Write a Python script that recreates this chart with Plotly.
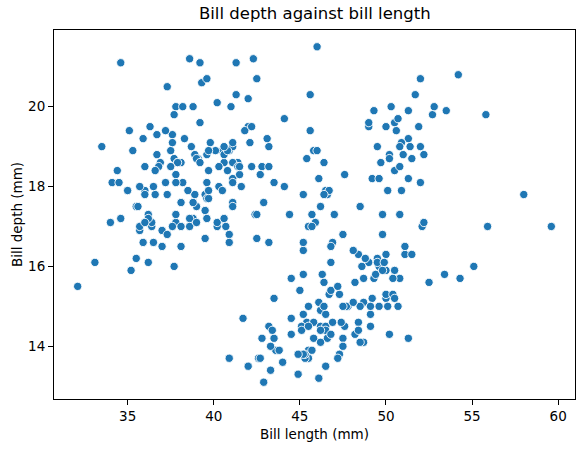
import plotly.graph_objects as go

# Palmer penguins, bill length / bill depth (mm), rows with values present
adelie_length = [
    39.1, 39.5, 40.3, 36.7, 39.3, 38.9, 39.2, 34.1, 42.0, 37.8, 37.8, 41.1, 38.6, 34.6, 36.6, 38.7,
    42.5, 34.4, 46.0, 37.8, 37.7, 35.9, 38.2, 38.8, 35.3, 40.6, 40.5, 37.9, 40.5, 39.5, 37.2, 39.5,
    40.9, 36.4, 39.2, 38.8, 42.2, 37.6, 39.8, 36.5, 40.8, 36.0, 44.1, 37.0, 39.6, 41.1, 37.5, 36.0,
    42.3, 39.6, 40.1, 35.0, 42.0, 34.5, 41.4, 39.0, 40.6, 36.5, 37.6, 35.7, 41.3, 37.6, 41.1, 36.4,
    41.6, 35.5, 41.1, 35.9, 41.8, 33.5, 39.7, 39.6, 45.8, 35.5, 42.8, 40.9, 37.2, 36.2, 42.1, 34.6,
    42.9, 36.7, 35.1, 37.3, 41.3, 36.3, 36.9, 38.3, 38.9, 35.7, 41.1, 34.0, 39.6, 36.2, 40.8, 38.1,
    40.3, 33.1, 43.2, 35.0, 41.0, 37.7, 37.8, 37.9, 39.7, 38.6, 38.2, 38.1, 43.2, 38.1, 45.6, 39.7,
    42.2, 39.6, 42.7, 38.6, 37.3, 35.7, 41.1, 36.2, 37.7, 40.2, 41.4, 35.2, 40.6, 38.8, 41.5, 39.0,
    44.1, 38.5, 43.1, 36.8, 37.5, 38.1, 41.1, 35.6, 40.2, 37.0, 39.7, 40.2, 40.6, 32.1, 40.7, 37.3,
    39.0, 39.2, 36.6, 36.0, 37.8, 36.0, 41.5,
]
adelie_depth = [
    18.7, 17.4, 18.0, 19.3, 20.6, 17.8, 19.6, 18.1, 20.2, 17.1, 17.3, 17.6, 21.2, 21.1, 17.8, 19.0,
    20.7, 18.4, 21.5, 18.3, 18.7, 19.2, 18.1, 17.2, 18.9, 18.6, 17.9, 18.6, 18.9, 16.7, 18.1, 17.8,
    18.9, 17.0, 21.1, 20.0, 18.5, 19.3, 19.1, 18.0, 18.4, 18.5, 19.7, 16.9, 18.8, 19.0, 18.9, 17.9,
    21.2, 17.7, 18.9, 17.9, 19.5, 18.1, 18.6, 17.5, 18.8, 16.6, 19.1, 16.9, 21.1, 17.0, 18.2, 17.1,
    18.0, 16.2, 19.1, 16.6, 19.4, 19.0, 18.4, 17.2, 18.9, 17.5, 18.5, 16.8, 19.4, 16.1, 19.1, 17.2,
    17.6, 18.8, 19.4, 17.8, 20.3, 19.5, 18.6, 19.2, 18.8, 18.0, 18.1, 17.1, 18.1, 17.3, 18.9, 18.6,
    18.5, 16.1, 18.5, 17.9, 20.0, 16.0, 20.0, 18.6, 18.9, 17.2, 20.0, 17.0, 19.0, 16.5, 20.3, 17.7,
    19.5, 20.7, 18.3, 17.0, 20.5, 17.0, 18.6, 17.2, 19.8, 17.0, 18.5, 15.9, 19.0, 17.6, 18.3, 17.1,
    18.0, 17.9, 19.2, 18.5, 18.5, 17.6, 17.5, 17.5, 20.1, 16.5, 17.9, 17.1, 17.2, 15.5, 17.0, 16.8,
    18.7, 18.6, 18.4, 17.8, 18.1, 17.1, 18.5,
]
gentoo_length = [
    46.1, 50.0, 48.7, 50.0, 47.6, 46.5, 45.4, 46.7, 43.3, 46.8, 40.9, 49.0, 45.5, 48.4, 45.8, 49.3,
    42.0, 49.2, 46.2, 48.7, 50.2, 45.1, 46.5, 46.3, 42.9, 46.1, 44.5, 47.8, 48.2, 50.0, 47.3, 42.8,
    45.1, 59.6, 49.1, 48.4, 42.6, 44.4, 44.0, 48.7, 42.7, 49.6, 45.3, 49.6, 50.5, 43.6, 45.5, 50.5,
    44.9, 45.2, 46.6, 48.5, 45.1, 50.1, 46.5, 45.0, 43.8, 45.5, 43.2, 50.4, 45.3, 46.2, 45.7, 54.3,
    45.8, 49.8, 46.2, 49.5, 43.5, 50.7, 47.7, 46.4, 48.2, 46.5, 46.4, 48.6, 47.5, 51.1, 45.2, 45.2,
    49.1, 52.5, 47.4, 50.0, 44.9, 50.8, 43.4, 51.3, 47.5, 52.1, 47.5, 52.2, 45.5, 49.5, 44.5, 50.8,
    49.4, 46.9, 48.4, 51.1, 48.5, 55.9, 47.2, 49.1, 47.3, 46.8, 41.7, 53.4, 43.3, 48.1, 50.5, 49.8,
    43.5, 51.5, 46.2, 55.1, 44.5, 48.8, 47.2, 46.8, 50.4, 45.2, 49.9,
]
gentoo_depth = [
    13.2, 16.3, 14.1, 15.2, 14.5, 13.5, 14.6, 15.3, 13.4, 15.4, 13.7, 16.1, 13.7, 14.6, 14.6, 15.7,
    13.5, 15.2, 14.5, 15.1, 14.3, 14.5, 14.5, 15.8, 13.1, 15.1, 14.3, 15.0, 14.3, 15.3, 15.3, 14.2,
    14.5, 17.0, 14.8, 16.3, 13.7, 17.3, 13.6, 15.7, 13.7, 16.0, 13.7, 15.0, 15.9, 13.9, 13.9, 15.9,
    13.3, 15.8, 14.2, 14.1, 14.4, 15.0, 14.4, 15.4, 13.9, 15.0, 14.5, 15.3, 13.8, 14.9, 13.9, 15.7,
    14.2, 16.8, 14.4, 16.2, 14.2, 15.0, 15.0, 15.6, 15.6, 14.8, 15.0, 16.0, 14.2, 16.3, 13.8, 16.4,
    14.5, 15.6, 14.6, 15.9, 13.8, 17.3, 14.4, 14.2, 14.0, 17.0, 15.0, 17.1, 14.5, 16.1, 14.7, 15.7,
    15.8, 14.6, 14.4, 16.5, 15.0, 17.0, 15.5, 15.0, 13.8, 16.1, 14.7, 15.8, 14.0, 15.1, 15.2, 15.9,
    15.2, 16.3, 14.1, 16.0, 15.7, 16.2, 13.7, 14.3, 15.7, 14.8, 16.1,
]
chinstrap_length = [
    46.5, 50.0, 51.3, 45.4, 52.7, 45.2, 46.1, 51.3, 46.0, 51.3, 46.6, 51.7, 47.0, 52.0, 45.9, 50.5,
    50.3, 58.0, 46.4, 49.2, 42.4, 48.5, 43.2, 50.6, 46.7, 52.0, 50.5, 49.5, 46.4, 52.8, 40.9, 54.2,
    42.5, 51.0, 49.7, 47.5, 47.6, 52.0, 46.9, 53.5, 49.0, 46.2, 50.9, 45.5, 50.9, 50.8, 50.1, 49.0,
    51.5, 49.8, 48.1, 51.4, 45.7, 50.7, 42.5, 52.2, 45.2, 49.3, 50.2, 45.6, 51.9, 46.8, 45.7, 55.8,
    43.5, 49.6, 50.8, 50.2,
]
chinstrap_depth = [
    17.9, 19.5, 19.2, 18.7, 19.8, 17.8, 18.2, 18.2, 18.9, 19.9, 17.8, 20.3, 17.3, 18.1, 17.1, 19.6,
    20.0, 17.8, 18.6, 18.2, 17.3, 17.5, 16.6, 19.4, 17.9, 19.0, 18.4, 19.0, 17.8, 20.0, 16.6, 20.8,
    16.7, 18.8, 18.6, 16.8, 18.3, 20.7, 16.6, 19.9, 19.5, 17.5, 19.1, 17.0, 17.9, 18.5, 17.9, 19.6,
    18.7, 17.3, 16.4, 19.0, 17.3, 19.7, 17.3, 18.8, 16.6, 19.9, 18.8, 19.4, 19.5, 16.5, 17.0, 19.8,
    18.1, 18.2, 19.0, 18.7,
]

bill_length = adelie_length + gentoo_length + chinstrap_length
bill_depth = adelie_depth + gentoo_depth + chinstrap_depth

x_ticks = [35, 40, 45, 50, 55, 60]
y_ticks = [14, 16, 18, 20]

FONT = "DejaVu Sans"

fig = go.Figure()
fig.add_trace(
    go.Scatter(
        x=bill_length,
        y=bill_depth,
        mode="markers",
        marker=dict(size=8.3, color="#1f77b4", line=dict(color="white", width=0.9)),
        showlegend=False,
    )
)

axis_style = dict(
    showline=True,
    linecolor="black",
    linewidth=1.1,
    mirror=True,
    showgrid=False,
    zeroline=False,
    automargin=False,
    ticks="outside",
    ticklen=5,
    tickwidth=1.1,
    tickcolor="black",
    tickfont=dict(family=FONT, size=13.5, color="black"),
)

fig.update_layout(
    width=584,
    height=451,
    margin=dict(l=54.3, r=8.7, t=30.3, b=51.7),
    plot_bgcolor="white",
    paper_bgcolor="white",
    title=dict(
        text="Bill depth against bill length",
        x=(54.3 + 575.3) / 2 / 584,
        xanchor="center",
        y=1 - 13 / 451,
        yanchor="middle",
        automargin=False,
        font=dict(family=FONT, size=16.5, color="black"),
    ),
    xaxis=dict(
        axis_style,
        range=[30.725, 60.975],
        tickvals=x_ticks,
        title=dict(text="Bill length (mm)", font=dict(family=FONT, size=13.5, color="black"), standoff=6),
    ),
    yaxis=dict(
        axis_style,
        range=[12.68, 21.92],
        tickvals=y_ticks,
        title=dict(text="Bill depth (mm)", font=dict(family=FONT, size=13.5, color="black"), standoff=2),
    ),
)

# the page body has a default margin; drop it so the figure sits at the window origin
fig.write_html(
    "out.html",
    config={"displayModeBar": False},
    post_script="document.body.style.margin='0';document.body.style.overflow='hidden';",
)
